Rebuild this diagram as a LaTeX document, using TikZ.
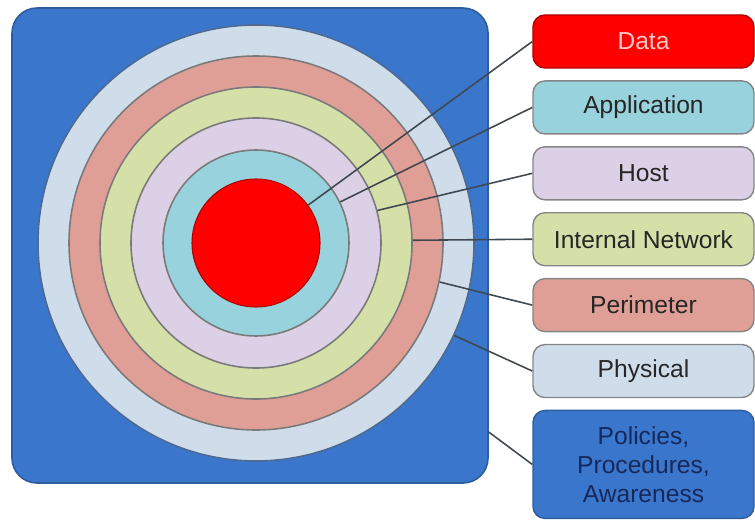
\documentclass[tikz,border=0pt]{standalone}
\usepackage{fontspec}
\setmainfont{Liberation Sans}
\usepackage{xcolor}
\usepackage{tikz}
\usetikzlibrary{positioning,calc}
\definecolor{baseblue}{HTML}{3A76CC}
\definecolor{basedark}{HTML}{2E5C9C}
\definecolor{physcol}{HTML}{CFDDEB}
\definecolor{physdark}{HTML}{4F6A90}
\definecolor{perimcol}{HTML}{E09F96}
\definecolor{netcol}{HTML}{D5E0A9}
\definecolor{hostcol}{HTML}{DCD0E6}
\definecolor{appcol}{HTML}{98D2DC}
\definecolor{datacol}{HTML}{FF0000}
\definecolor{datadark}{HTML}{B00000}
\definecolor{datatext}{HTML}{FFC8C8}
\definecolor{ringgray}{HTML}{7A7A7A}
\definecolor{boxgray}{HTML}{858585}
\definecolor{wiregray}{HTML}{404850}
\definecolor{poltext}{HTML}{17295A}
\tikzset{ring/.style={draw=ringgray,circle,inner sep=0pt,line width=0.9pt}}
\tikzset{layer/.style={draw=boxgray,rounded corners=0.24cm,minimum width=4.42cm,minimum height=1.06cm,
  align=center,inner sep=0pt,text=black!85,font=\fontsize{14}{16.5}\selectfont,line width=0.8pt}}
\tikzset{wire/.style={draw=wiregray,line width=0.9pt}}

\begin{document}
\begin{tikzpicture}[-, auto, node distance=0.23cm]
\useasboundingbox (0,0) rectangle (15.1,10.44);
    \node[draw=basedark,fill=baseblue,line width=0.9pt,rounded corners=0.5cm,minimum width=9.52cm,minimum height=9.5cm] (base) at (5.0,5.53) {};
    \node[ring,draw=physdark,fill=physcol,minimum size=8.72cm] (rPhys) at (5.12,5.58) {};
    \node[ring,fill=perimcol,minimum size=7.48cm] (rPerim) at (rPhys) {};
    \node[ring,fill=netcol,minimum size=6.24cm] (rNet) at (rPhys) {};
    \node[ring,fill=hostcol,minimum size=5.0cm] (rHost) at (rPhys) {};
    \node[ring,fill=appcol,minimum size=3.72cm] (rApp) at (rPhys) {};
    \node[ring,draw=datadark,line width=0.6pt,fill=datacol,minimum size=2.56cm] (rData) at (rPhys) {};

    \node[layer,draw=datadark,fill=datacol,text=datatext] (Data) at (12.87,9.61) {Data};
    \node[layer,fill=appcol,below=of Data] (App) {Application};
    \node[layer,fill=hostcol,below=of App] (Host) {Host};
    \node[layer,fill=netcol,below=of Host] (Net) {Internal Network};
    \node[layer,fill=perimcol,below=of Net] (Perim) {Perimeter};
    \node[layer,fill=physcol,below=of Perim] (Phys) {Physical};
    \node[layer,draw=basedark,fill=baseblue,text=poltext,minimum height=2.16cm,below=of Phys] (Pol) {Policies,\\Procedures,\\Awareness};

    \path[wire] (Data.west) edge (rData.36);
    \path[wire] (App.west) edge (rApp.26);
    \path[wire] (Host.west) edge (rHost.15);
    \path[wire] (Net.west) edge (rNet.1);
    \path[wire] (Perim.west) edge (rPerim.-12.6);
    \path[wire] (Phys.west) edge (rPhys.-25.6);
    \path[wire] (Pol.west) edge (base.-38);
\end{tikzpicture}
\end{document}
